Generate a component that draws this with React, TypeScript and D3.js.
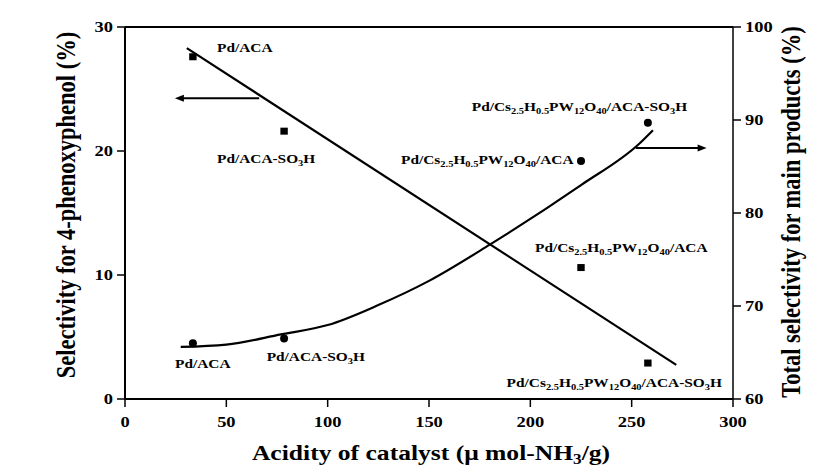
import React from "react";
import * as d3 from "d3";

// ---- data ----
const acidity = [33.5, 78.5, 225, 258];
const phenolSel = [27.6, 21.6, 10.6, 2.9]; // left axis, squares
const totalSel = [66.0, 66.5, 85.6, 89.7]; // right axis, circles

// fitted trend lines
const trendLeftX = [30.5, 272];
const trendLeftY = [28.3, 2.75];
const trendRightX = [27.5, 50, 77, 100, 125, 150, 180, 225, 254, 260.5];
const trendRightY = [65.6, 65.85, 66.95, 67.95, 70.1, 72.7, 76.6, 83.0, 87.5, 88.9];

const xTicks = [0, 50, 100, 150, 200, 250, 300];
const yLeftTicks = [0, 10, 20, 30];
const yRightTicks = [60, 70, 80, 90, 100];

// label segments: [text, subscript?]
type Seg = [string, boolean];
const lblPdACA: Seg[] = [["Pd/ACA", false]];
const lblPdACASO3H: Seg[] = [["Pd/ACA-SO", false], ["3", true], ["H", false]];
const lblCs: Seg[] = [
  ["Pd/Cs", false], ["2.5", true], ["H", false], ["0.5", true], ["PW", false], ["12", true],
  ["O", false], ["40", true], ["/ACA", false],
];
const lblCsSO3H: Seg[] = [...lblCs, ["-SO", false], ["3", true], ["H", false]];

// annotations in data units (x: acidity, y: value on the named axis)
const squareLabels = [
  { segs: lblPdACA, x: 45.4, y: 27.98 },
  { segs: lblPdACASO3H, x: 45.4, y: 19.03 },
  { segs: lblCs, x: 202.3, y: 11.88 },
  { segs: lblCsSO3H, x: 188.3, y: 0.99 },
];
const circleLabels = [
  { segs: lblPdACA, x: 24.7, y: 63.3 },
  { segs: lblPdACASO3H, x: 69.9, y: 64.09 },
  { segs: lblCs, x: 136.2, y: 85.27 },
  { segs: lblCsSO3H, x: 171.1, y: 91.0 },
];
// arrows: [xFrom, xTo, y]
const arrowLeft = { from: 66.2, to: 24.6, y: 24.25 };
const arrowRight = { from: 252, to: 287, y: 87.0 };

// ---- layout ----
const W = 836, H = 471;
const X0 = 125, X1 = 733, Y0 = 399, Y1 = 27;
const SX = 1.23;
const FONT = "'Liberation Serif', 'Times New Roman', serif";

const x = d3.scaleLinear().domain([0, 300]).range([X0, X1]);
const yL = d3.scaleLinear().domain([0, 30]).range([Y0, Y1]);
const yR = d3.scaleLinear().domain([60, 100]).range([Y0, Y1]);

function SText(props: { x: number; y: number; anchor?: string; size: number; children: any; rotate?: boolean }) {
  const { anchor = "start", size, rotate } = props;
  return (
    <g transform={`translate(${props.x},${props.y}) scale(${SX},1)${rotate ? " rotate(-90)" : ""}`}>
      <text textAnchor={anchor} fontFamily={FONT} fontWeight="bold" fontSize={size} fill="#000">
        {props.children}
      </text>
    </g>
  );
}

function Label({ segs, px, py }: { segs: Seg[]; px: number; py: number }) {
  let sub = false;
  return (
    <SText x={px} y={py} size={12.5}>
      {segs.map((s, i) => {
        const dy = s[1] && !sub ? 3 : !s[1] && sub ? -3 : 0;
        sub = s[1];
        return (
          <tspan key={i} dy={dy} fontSize={s[1] ? 8.5 : 12.5}>
            {s[0]}
          </tspan>
        );
      })}
    </SText>
  );
}

export default function App() {
  const lineL = d3.line<number>().x((_, i) => x(trendLeftX[i])).y((d) => yL(d));
  const lineR = d3
    .line<number>()
    .x((_, i) => x(trendRightX[i]))
    .y((d) => yR(d))
    .curve(d3.curveMonotoneX);

  const arrow = (x1: number, x2: number, y: number) => {
    const dir = Math.sign(x2 - x1);
    const hl = 9, hw = 3.5;
    return (
      <g>
        <line x1={x1} x2={x2 - dir * hl + dir} y1={y} y2={y} stroke="#000" strokeWidth={2} />
        <path d={`M${x2},${y} L${x2 - dir * hl},${y - hw} L${x2 - dir * hl},${y + hw} Z`} fill="#000" />
      </g>
    );
  };

  return (
    <svg width={W} height={H} style={{ position: "absolute", left: 0, top: 0, background: "#fff" }}>
      <rect width={W} height={H} fill="#fff" />
      {/* frame / axes */}
      <line x1={X0} x2={X1} y1={Y1} y2={Y1} stroke="#000" strokeWidth={2} />
      <line x1={X0} x2={X1} y1={Y0} y2={Y0} stroke="#000" strokeWidth={2} />
      <line x1={X0} x2={X0} y1={Y1} y2={Y0} stroke="#000" strokeWidth={2} />
      <line x1={X1} x2={X1} y1={Y1} y2={Y0} stroke="#000" strokeWidth={1.5} />

      {xTicks.map((t) => (
        <g key={"x" + t}>
          <line x1={x(t)} x2={x(t)} y1={Y0} y2={Y0 + 8} stroke="#000" strokeWidth={1.5} />
          <SText x={x(t)} y={427} anchor="middle" size={15}>
            {t}
          </SText>
        </g>
      ))}
      {yLeftTicks.map((t) => (
        <g key={"l" + t}>
          <line x1={X0 - 8} x2={X0} y1={yL(t)} y2={yL(t)} stroke="#000" strokeWidth={1.5} />
          <SText x={113} y={yL(t) + 5} anchor="end" size={15}>
            {t}
          </SText>
        </g>
      ))}
      {yRightTicks.map((t) => (
        <g key={"r" + t}>
          <line x1={X1} x2={X1 + 8} y1={yR(t)} y2={yR(t)} stroke="#000" strokeWidth={1.5} />
          <SText x={745} y={yR(t) + 5} anchor="start" size={15}>
            {t}
          </SText>
        </g>
      ))}

      {/* axis titles */}
      <SText x={431} y={460} anchor="middle" size={20.8}>
        <tspan>Acidity of catalyst (μ mol-NH</tspan>
        <tspan dy={4} fontSize={14}>3</tspan>
        <tspan dy={-4}>/g)</tspan>
      </SText>
      <SText x={75} y={205} anchor="middle" size={22}>
        {""}
      </SText>
      <g transform="translate(75,205) scale(1.23,1) rotate(-90)">
        <text textAnchor="middle" fontFamily={FONT} fontWeight="bold" fontSize={22.5} fill="#000">
          Selectivity for 4-phenoxyphenol (%)
        </text>
      </g>
      <g transform="translate(800,212) scale(1.23,1) rotate(-90)">
        <text textAnchor="middle" fontFamily={FONT} fontWeight="bold" fontSize={22.5} fill="#000">
          Total selectivity for main products (%)
        </text>
      </g>

      {/* trend lines */}
      <path d={lineL(trendLeftY) || ""} fill="none" stroke="#000" strokeWidth={2.2} />
      <path d={lineR(trendRightY) || ""} fill="none" stroke="#000" strokeWidth={2.2} />

      {/* markers */}
      {acidity.map((a, i) => (
        <rect key={"s" + i} x={x(a) - 3.7} y={yL(phenolSel[i]) - 3.5} width={7.4} height={7} fill="#000" />
      ))}
      {acidity.map((a, i) => (
        <circle key={"c" + i} cx={x(a)} cy={yR(totalSel[i])} r={4} fill="#000" />
      ))}

      {/* arrows */}
      {arrow(x(arrowLeft.from), x(arrowLeft.to), yL(arrowLeft.y))}
      {arrow(x(arrowRight.from), x(arrowRight.to), yR(arrowRight.y))}

      {/* labels */}
      {squareLabels.map((l, i) => (
        <Label key={"sl" + i} segs={l.segs} px={x(l.x)} py={yL(l.y)} />
      ))}
      {circleLabels.map((l, i) => (
        <Label key={"cl" + i} segs={l.segs} px={x(l.x)} py={yR(l.y)} />
      ))}
    </svg>
  );
}
